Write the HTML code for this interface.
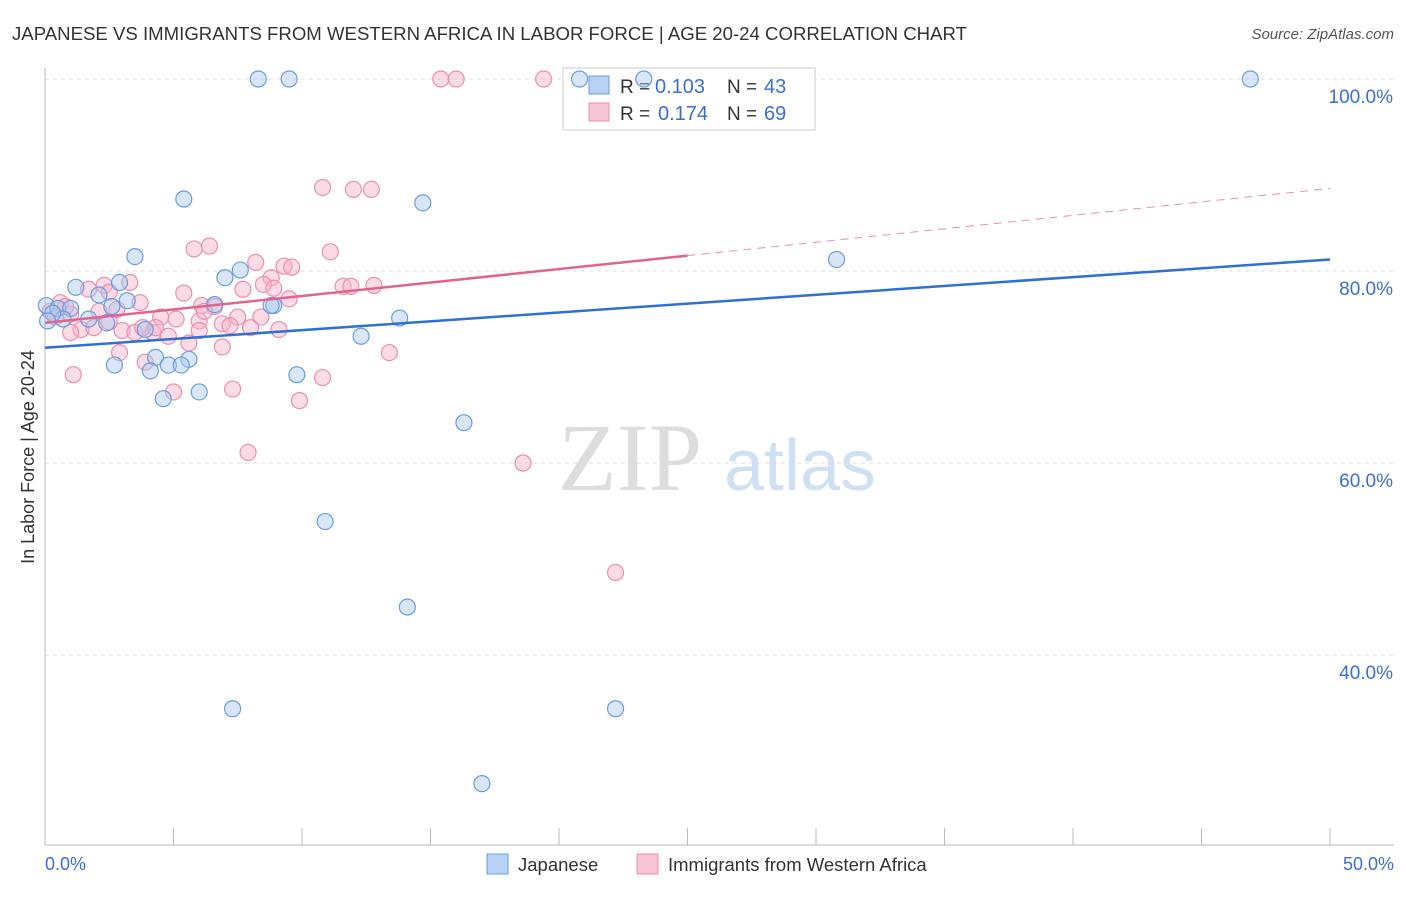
<!DOCTYPE html>
<html><head><meta charset="utf-8"><style>
body{margin:0;background:#fff;font-family:"Liberation Sans",sans-serif}
</style></head><body>
<svg width="1406" height="892" xmlns="http://www.w3.org/2000/svg" id="chart">
<text x="12" y="40" font-size="18" fill="#333" textLength="955" lengthAdjust="spacingAndGlyphs">JAPANESE VS IMMIGRANTS FROM WESTERN AFRICA IN LABOR FORCE | AGE 20-24 CORRELATION CHART</text>
<text x="1394" y="39" font-size="15" fill="#555" font-style="italic" text-anchor="end">Source: ZipAtlas.com</text>
<text x="630" y="490" font-size="96" fill="#ddd" text-anchor="middle" font-family="Liberation Serif">ZIP</text>
<text x="800" y="490" font-size="72" fill="#cfe0f5" text-anchor="middle">atlas</text>
<g id="grid"></g>
<g id="axes"></g>
<g>
<rect x="563" y="68" width="252" height="62" fill="#fff" stroke="#ccc"/>
<rect x="589" y="76" width="20" height="18" fill="#b8d2f4" stroke="#6a9de0"/>
<rect x="589" y="103" width="20" height="18" fill="#f9c4d5" stroke="#e890ae"/>
<text x="620" y="93" font-size="19" fill="#333">R =</text>
<text x="655" y="93" font-size="20" fill="#3b6fd4">0.103</text>
<text x="727" y="93" font-size="19" fill="#333">N =</text>
<text x="764" y="93" font-size="20" fill="#3b6fd4">43</text>
<text x="620" y="120" font-size="19" fill="#333">R =</text>
<text x="658" y="120" font-size="20" fill="#3b6fd4">0.174</text>
<text x="727" y="120" font-size="19" fill="#333">N =</text>
<text x="764" y="120" font-size="20" fill="#3b6fd4">69</text>
</g>
<g id="pts"></g>
<g id="lines"></g>
<text x="34" y="457" font-size="18" fill="#333" text-anchor="middle" transform="rotate(-90 34 457)">In Labor Force | Age 20-24</text>
<text x="45" y="870" font-size="18" fill="#3b6fd4">0.0%</text>
<text x="1394" y="870" font-size="18" fill="#3b6fd4" text-anchor="end">50.0%</text>
<g>
<rect x="487" y="854" width="21" height="20" fill="#b8d2f4" stroke="#6a9de0"/>
<text x="518" y="871" font-size="18.5" fill="#333">Japanese</text>
<rect x="637" y="854" width="21" height="20" fill="#f9c4d5" stroke="#e890ae"/>
<text x="668" y="871" font-size="18.5" fill="#333">Immigrants from Western Africa</text>
</g>
</svg>
<script>
const yTicks=[100,80,60,40];
const xTickVals=[0,5,10,15,20,25,30,35,40,45,50];
const blueX=[8.3,9.5,20.8,23.3,46.9,5.4,14.7,3.5,30.8,7.6,7.0,1.2,2.9,2.1,3.2,6.6,8.9,0.05,0.5,1.0,2.6,0.7,2.4,13.8,3.9,12.3,4.3,5.6,2.7,4.8,5.3,4.1,9.8,4.6,6.0,16.3,10.9,14.1,7.3,22.2,17.0,8.8,0.3,1.7,0.1];
const blueY=[100,100,100,100,100,87.5,87.1,81.5,81.2,80.1,79.3,78.3,78.8,77.5,76.9,76.5,76.4,76.4,76.1,76.1,76.3,75.0,74.6,75.1,73.9,73.2,71.0,70.8,70.2,70.2,70.2,69.6,69.2,66.7,67.4,64.2,53.9,45.0,34.4,34.4,26.6,76.4,75.6,75.0,74.8];
const pinkX=[15.4,16.0,19.4,10.8,12.0,12.7,5.8,6.4,11.1,8.2,9.3,9.6,8.8,8.5,8.9,11.6,11.9,12.8,3.3,2.3,1.7,2.5,3.7,5.4,6.1,6.6,0.6,0.2,1.0,2.1,2.8,4.5,5.1,6.0,7.5,8.4,6.9,8.0,9.1,7.2,1.4,1.0,1.9,3.0,3.5,4.2,4.8,5.6,6.9,2.9,3.9,13.4,1.1,5.0,7.3,9.9,10.8,7.9,18.6,22.2,6.0,0.4,0.8,2.5,3.8,4.3,6.2,7.7,9.5];
const pinkY=[100,100,100,88.7,88.5,88.5,82.3,82.6,82.0,80.9,80.5,80.4,79.3,78.6,78.2,78.4,78.4,78.5,78.8,78.5,78.1,77.8,76.7,77.7,76.4,76.3,76.7,75.8,75.5,75.8,76.0,75.2,75.0,74.8,75.2,75.2,74.5,74.1,73.9,74.3,73.9,73.6,74.1,73.8,73.6,73.6,73.2,72.5,72.1,71.5,70.5,71.5,69.2,67.4,67.7,66.5,68.9,61.1,60.0,48.6,73.8,75.2,76.3,74.7,74.1,74.1,75.8,78.1,77.1];
const blueLine=[72.0,81.2];
const pinkLine=[74.6,88.6];
const X=v=>45+v*25.7, Y=v=>79+(100-v)*9.6;
const NS="http://www.w3.org/2000/svg";
function mk(p,t,a){const e=document.createElementNS(NS,t);for(const k in a)e.setAttribute(k,a[k]);document.getElementById(p).appendChild(e);return e;}
yTicks.forEach(v=>{
 const l=mk('grid','line',{x1:45,x2:1394,y1:Y(v),y2:Y(v),stroke:'#ddd','stroke-dasharray':'4,4'});
 
 
 const t=mk('grid','text',{x:1393,y:Y(v)+24,'font-size':19,fill:'#3b6fd4','text-anchor':'end'});t.textContent=v.toFixed(1)+'%';
 
 
});
mk('axes','line',{x1:45,x2:45,y1:68,y2:845,stroke:'#bbb'});
mk('axes','line',{x1:45,x2:1394,y1:845,y2:845,stroke:'#bbb'});
xTickVals.forEach(v=>{const t=mk('axes','line',{x1:X(v),x2:X(v),y1:828,y2:845,stroke:'#bbb'});
 
 });
function pts(xs,ys,f,s,n){xs.forEach((x,i)=>{const c=mk('pts','circle',{cx:X(x),cy:Y(ys[i]),r:8,fill:f,'fill-opacity':0.45,stroke:s,'stroke-width':1.2});
 
 });}
pts(pinkX,pinkY,'#f7b0c6','#e890ae','immigrants-point');
pts(blueX,blueY,'#a8c8f0','#6a9de0','japanese-point');
const bl=mk('lines','line',{x1:X(0),y1:Y(blueLine[0]),x2:X(50),y2:Y(blueLine[1]),stroke:'#2f6fd6','stroke-width':2.5});


const pm=pinkLine[0]+(pinkLine[1]-pinkLine[0])*0.5;
const pl=mk('lines','line',{x1:X(0),y1:Y(pinkLine[0]),x2:X(25),y2:Y(pm),stroke:'#e0648e','stroke-width':2.5});


const pd=mk('lines','line',{x1:X(25),y1:Y(pm),x2:X(50),y2:Y(pinkLine[1]),stroke:'#e890ae','stroke-width':1,'stroke-dasharray':'8,6'});


</script>
</body></html>
